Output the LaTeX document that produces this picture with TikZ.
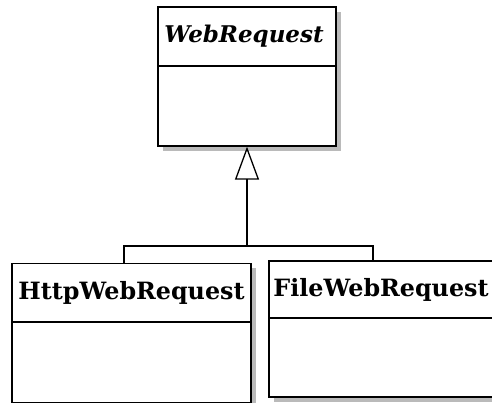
\documentclass[tikz,border=0pt]{standalone}
\usepackage{fontspec}
\setmainfont{DejaVu Serif}
\usetikzlibrary{arrows.meta,shadows}
\begin{document}
\begin{tikzpicture}[x=1pt,y=1pt,
  cls/.style={draw=black, line width=1.3pt, fill=white, inner sep=0pt,
    drop shadow={shadow xshift=5pt, shadow yshift=-5pt, fill=black!27, opacity=1}},
  ttl/.style={font=\fontsize{23.8}{28}\selectfont\bfseries, inner sep=0pt},
  divline/.style={line width=1.3pt},
  conn/.style={line width=1.3pt},
  inherit/.style={line width=1.3pt, -{Triangle[open, length=33pt, width=24pt, line width=1.3pt]}}]
\useasboundingbox (0,0) rectangle (492,403);
\clip (0,0) rectangle (492,403);
\fill[white] (0,0) rectangle (492,403);
% WebRequest
\node[cls, minimum width=178pt, minimum height=139pt] (wr) at (247,326.5) {};
\draw[divline] (158,337) -- (336,337);
\node[ttl, font=\fontsize{23}{28}\selectfont\bfseries\itshape] (wrT) at (244,366.5) {WebRequest};
% HttpWebRequest
\node[cls, minimum width=239pt, minimum height=139pt] (http) at (131.5,70) {};
\draw[divline] (12,81) -- (251,81);
\node[ttl] (httpT) at (131.5,110) {HttpWebRequest};
% FileWebRequest
\node[cls, minimum width=226pt, minimum height=136pt] (file) at (382,74) {};
\draw[divline] (269,85) -- (495,85);
\node[ttl] (fileT) at (381,113.5) {FileWebRequest};
% connectors
\coordinate (j) at (247,157);
\coordinate (httpTop) at (124,139.6);
\coordinate (fileTop) at (373,142.6);
\draw[inherit] (j) -- (wr.south);
\draw[conn] (httpTop) |- (j) -| (fileTop);
\end{tikzpicture}
\end{document}
